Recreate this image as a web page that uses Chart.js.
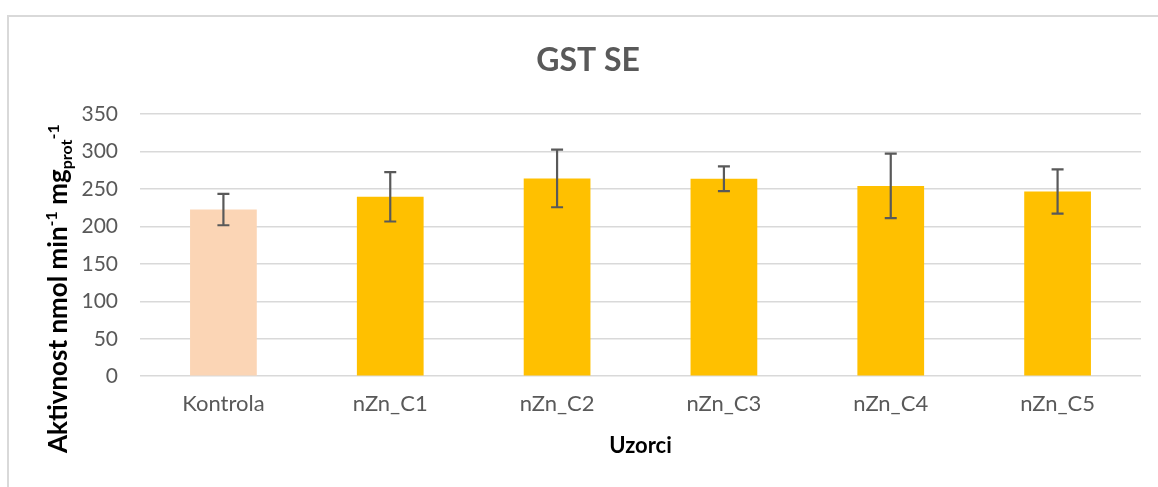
<!DOCTYPE html>
<html>
<head>
<meta charset="utf-8">
<script src="https://cdn.jsdelivr.net/npm/chart.js@4.4.1/dist/chart.umd.min.js"></script>
<style>
	html, body { margin: 0; padding: 0; background: #fff; overflow: hidden; }
	#frame { position: absolute; left: 7px; top: 15px; width: 1300px; height: 600px; border-left: 2px solid #d9d9d9; border-top: 2px solid #d9d9d9; }
	#gstChart { position: absolute; left: 0; top: 0; }
</style>
</head>
<body>
<div id="frame"></div>
<canvas id="gstChart" width="1158" height="487"></canvas>
<script>
var categories = ['Kontrola', 'nZn_C1', 'nZn_C2', 'nZn_C3', 'nZn_C4', 'nZn_C5'];
var activity = [222.5, 239.5, 264, 263.5, 254, 246.5];
var activityErr = [21, 33, 38.5, 16.5, 43, 29.5];
var barColors = ['#FBD5B5', '#FFC000', '#FFC000', '#FFC000', '#FFC000', '#FFC000'];
var yTicks = [0, 50, 100, 150, 200, 250, 300, 350];

// error bars drawn over the bars, using the y scale
var errorBars = {
	id: 'errorBars',
	afterDatasetsDraw: function(chart) {
		var ctx = chart.ctx;
		var y = chart.scales.y;
		var meta = chart.getDatasetMeta(0);
		ctx.save();
		ctx.strokeStyle = '#595959';
		ctx.lineWidth = 2.2;
		meta.data.forEach(function(bar, i) {
			var top = y.getPixelForValue(activity[i] + activityErr[i]);
			var bot = y.getPixelForValue(activity[i] - activityErr[i]);
			ctx.beginPath();
			ctx.moveTo(bar.x, top);
			ctx.lineTo(bar.x, bot);
			ctx.moveTo(bar.x - 6, top);
			ctx.lineTo(bar.x + 6, top);
			ctx.moveTo(bar.x - 6, bot);
			ctx.lineTo(bar.x + 6, bot);
			ctx.stroke();
		});
		ctx.restore();
	}
};

// y axis title with superscripts and subscript
var yTitle = {
	id: 'yTitle',
	afterDraw: function(chart) {
		var parts = [
			{ text: 'Aktivnost nmol min', size: 26, shift: 0 },
			{ text: '-1', size: 16, shift: 10 },
			{ text: ' mg', size: 26, shift: 0 },
			{ text: 'prot', size: 16, shift: -5 },
			{ text: '-1', size: 16, shift: 8 }
		];
		var ctx = chart.ctx;
		ctx.save();
		ctx.translate(67, 453);
		ctx.rotate(-Math.PI / 2);
		ctx.fillStyle = '#000';
		ctx.textBaseline = 'alphabetic';
		var x = 0;
		parts.forEach(function(p) {
			ctx.font = 'bold ' + p.size + 'px Lato';
			ctx.fillText(p.text, x, -p.shift);
			x += ctx.measureText(p.text).width;
		});
		ctx.restore();
	}
};

var gstChart = new Chart(document.getElementById('gstChart'), {
	type: 'bar',
	data: {
		labels: categories,
		datasets: [{
			label: 'GST SE',
			data: activity,
			backgroundColor: barColors,
			borderWidth: 0,
			categoryPercentage: 0.4,
			barPercentage: 1
		}]
	},
	options: {
		responsive: false,
		animation: false,
		devicePixelRatio: 1,
		layout: { padding: { left: 35, right: 17, top: 0, bottom: 0 } },
		plugins: {
			legend: { display: false },
			tooltip: { enabled: false },
			title: {
				display: true,
				text: 'GST SE',
				color: '#595959',
				font: { family: 'Lato', size: 32, weight: 'bold' },
				padding: { top: 41, bottom: 34.6 }
			}
		},
		scales: {
			x: {
				grid: { display: false, drawTicks: false },
				border: { display: false },
				ticks: { color: '#595959', font: { family: 'Lato', size: 22 }, padding: 15 },
				title: {
					display: true,
					text: 'Uzorci',
					color: '#000',
					font: { family: 'Lato', size: 22, weight: 'bold' },
					padding: { top: 0, bottom: 28 }
				}
			},
			y: {
				min: 0,
				max: 350,
				afterFit: function(scale) { scale.width = 105; },
				afterBuildTicks: function(scale) {
					scale.ticks = yTicks.map(function(v) { return { value: v }; });
				},
				grid: { color: '#d9d9d9', lineWidth: 1.5, drawTicks: false },
				border: { display: false },
				ticks: { color: '#595959', font: { family: 'Lato', size: 21 }, padding: 22 }
			}
		}
	},
	plugins: [errorBars, yTitle]
});
</script>
</body>
</html>
